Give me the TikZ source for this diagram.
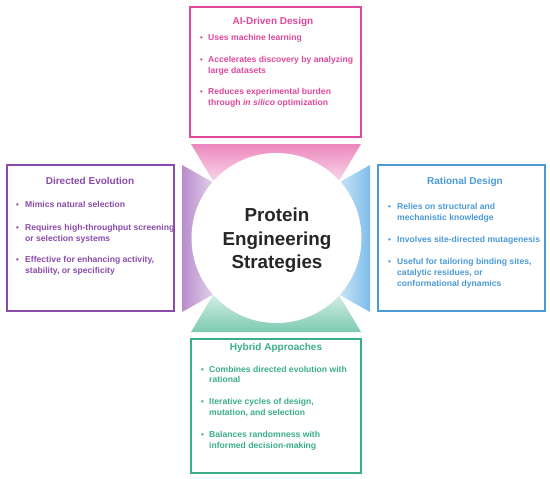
\documentclass[tikz,border=0pt]{standalone}
\usepackage{fontspec}
\setmainfont{Liberation Sans}
\begin{document}
\definecolor{cpink}{HTML}{E0489A}
\definecolor{cpurple}{HTML}{8B4BAA}
\definecolor{cblue}{HTML}{4A9AD8}
\definecolor{cgreen}{HTML}{3AAE88}
\definecolor{fpink}{HTML}{EC88BE}
\definecolor{fpurple}{HTML}{B88CCB}
\definecolor{fblue}{HTML}{7DBDEB}
\definecolor{fgreen}{HTML}{7CCBB0}
\begin{tikzpicture}[x=1pt,y=-1pt,
  boxst/.style={line width=1.1pt},
  ttl/.style={font=\bfseries\fontsize{10}{12}\selectfont, inner sep=0pt, anchor=base},
  ln/.style={font=\bfseries\fontsize{8.6}{11}\selectfont, inner sep=0pt, anchor=base west},
  bu/.style={font=\bfseries\fontsize{8}{11}\selectfont, inner sep=0pt, anchor=base west},
  ctr/.style={font=\bfseries\fontsize{18.8}{22}\selectfont, inner sep=0pt, anchor=base, text=black!85}]
\useasboundingbox (0,0) rectangle (550,479);
% fans
\shade[top color=fpink, bottom color=fpink!8] (191,144) -- (361,144) -- (330,196) -- (222,196) -- cycle;
\shade[bottom color=fgreen, top color=fgreen!8] (191,332) -- (361,332) -- (330,280) -- (222,280) -- cycle;
\shade[left color=fpurple, right color=fpurple!8] (182,165) -- (182,312) -- (230,285) -- (230,192) -- cycle;
\shade[right color=fblue, left color=fblue!8] (370,165) -- (370,312) -- (322,285) -- (322,192) -- cycle;
% circle
\node[circle, fill=white, minimum size=170pt, inner sep=0pt] (c) at (276.5,238) {};
\node[ctr] (c1) at (277,221.5) {Protein};
\node[ctr] (c2) at (277,245) {Engineering};
\node[ctr] (c3) at (277,268.5) {Strategies};
% boxes
\draw[boxst, cpink] (190,7) rectangle (361,137);
\draw[boxst, cpurple] (7,165) rectangle (174,311);
\draw[boxst, cblue] (378,165) rectangle (545,311);
\draw[boxst, cgreen] (191,339) rectangle (361,473);
% top box
\begin{scope}[every node/.append style={text=cpink}]
\node[ttl] (tt) at (273,24.5) {AI-Driven Design};
\node[bu] (tb1) at (200,40) {•}; \node[ln] (t1) at (208,40) {Uses machine learning};
\node[bu] (tb2) at (200,62) {•}; \node[ln] (t2) at (208,62) {Accelerates discovery by analyzing};
\node[ln] (t3) at (208,73) {large datasets};
\node[bu] (tb3) at (200,94) {•}; \node[ln] (t4) at (208,94) {Reduces experimental burden};
\node[ln] (t5) at (208,105) {through \textit{in silico} optimization};
\end{scope}
% left box
\begin{scope}[every node/.append style={text=cpurple}]
\node[ttl] (lt) at (90,184.5) {Directed Evolution};
\node[bu] (lb1) at (16,207) {•}; \node[ln] (l1) at (25,207) {Mimics natural selection};
\node[bu] (lb2) at (16,230) {•}; \node[ln] (l2) at (25,230) {Requires high-throughput screening};
\node[ln] (l3) at (25,241) {or selection systems};
\node[bu] (lb3) at (16,262) {•}; \node[ln] (l4) at (25,262) {Effective for enhancing activity,};
\node[ln] (l5) at (25,273) {stability, or specificity};
\end{scope}
% right box
\begin{scope}[every node/.append style={text=cblue}]
\node[ttl] (rt) at (465,184.5) {Rational Design};
\node[bu] (rb1) at (388,209) {•}; \node[ln] (r1) at (397,209) {Relies on structural and};
\node[ln] (r2) at (397,220) {mechanistic knowledge};
\node[bu] (rb2) at (388,242) {•}; \node[ln] (r3) at (397,242) {Involves site-directed mutagenesis};
\node[bu] (rb3) at (388,264) {•}; \node[ln] (r4) at (397,264) {Useful for tailoring binding sites,};
\node[ln] (r5) at (397,275) {catalytic residues, or};
\node[ln] (r6) at (397,286) {conformational dynamics};
\end{scope}
% bottom box
\begin{scope}[every node/.append style={text=cgreen}]
\node[ttl] (bt) at (276,350.5) {Hybrid Approaches};
\node[bu] (bb1) at (201,372) {•}; \node[ln] (b1) at (209,372) {Combines directed evolution with};
\node[ln] (b2) at (209,382.5) {rational};
\node[bu] (bb2) at (201,404) {•}; \node[ln] (b3) at (209,404) {Iterative cycles of design,};
\node[ln] (b4) at (209,415) {mutation, and selection};
\node[bu] (bb3) at (201,437) {•}; \node[ln] (b5) at (209,437) {Balances randomness with};
\node[ln] (b6) at (209,448) {informed decision-making};
\end{scope}
\end{tikzpicture}
\end{document}
